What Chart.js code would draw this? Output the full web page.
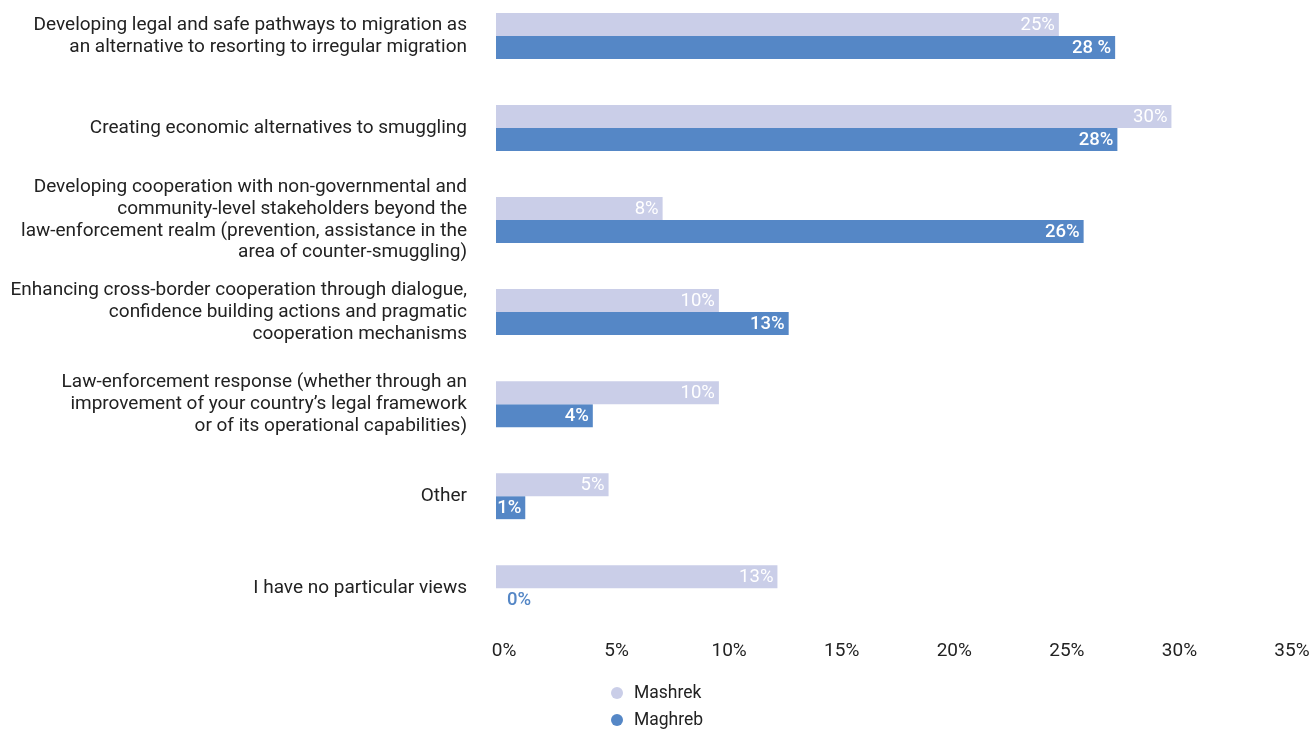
<!DOCTYPE html>
<html>
<head>
<meta charset="utf-8">
<script src="https://cdn.jsdelivr.net/npm/chart.js@4/dist/chart.umd.min.js"></script>
<style>
  html, body { margin: 0; padding: 0; background: #fff; }
  #wrap { width: 1312px; height: 730px; position: relative; }
</style>
</head>
<body>
<div id="wrap"><canvas id="chart"></canvas></div>
<script>
// categories (one per row)
const categories = [
  ['Developing legal and safe pathways to migration as', 'an alternative to resorting to irregular migration'],
  'Creating economic alternatives to smuggling',
  ['Developing cooperation with non-governmental and', 'community-level stakeholders beyond the', 'law-enforcement realm (prevention, assistance in the', 'area of counter-smuggling)'],
  ['Enhancing cross-border cooperation through dialogue,', 'confidence building actions and pragmatic', 'cooperation mechanisms'],
  ['Law-enforcement response (whether through an', 'improvement of your country\u2019s legal framework', 'or of its operational capabilities)'],
  'Other',
  'I have no particular views'
];

// series values (%)
const mashrekValues = [25, 30, 7.4, 9.9, 9.9, 5.0, 12.5];
const maghrebValues = [27.5, 27.6, 26.1, 13.0, 4.3, 1.3, 0];

// value labels as printed on the bars
const mashrekLabels = ['25%', '30%', '8%', '10%', '10%', '5%', '13%'];
const maghrebLabels = ['28 %', '28%', '26%', '13%', '4%', '1%', '0%'];

const xTicks = [0, 5, 10, 15, 20, 25, 30, 35];

const MASHREK = '#caceE8';
const MAGHREB = '#5587c6';
const FONT = 'Roboto, "Noto Sans", sans-serif';

// labels drawn at the end of each bar
const barLabels = {
  id: 'barLabels',
  afterDatasetsDraw(chart) {
    const ctx = chart.ctx;
    const texts = [mashrekLabels, maghrebLabels];
    chart.data.datasets.forEach((ds, i) => {
      const meta = chart.getDatasetMeta(i);
      ctx.save();
      ctx.font = (i === 1 ? '500 ' : '400 ') + '18.5px ' + FONT;
      ctx.textBaseline = 'middle';
      meta.data.forEach((bar, j) => {
        const txt = texts[i][j];
        const w = ctx.measureText(txt).width;
        const barW = bar.x - bar.base;
        if (w + 5 <= barW) {
          ctx.fillStyle = '#ffffff';
          ctx.textAlign = 'right';
          ctx.fillText(txt, bar.x - 4, bar.y + 1);
        } else {
          ctx.fillStyle = ds.backgroundColor;
          ctx.textAlign = 'left';
          ctx.fillText(txt, bar.x + 11, bar.y + 1);
        }
      });
      ctx.restore();
    });
  }
};

// vertical legend under the axis
const stackedLegend = {
  id: 'stackedLegend',
  afterDraw(chart) {
    const ctx = chart.ctx;
    ctx.save();
    ctx.font = '17.5px ' + FONT;
    ctx.textBaseline = 'middle';
    ctx.textAlign = 'left';
    chart.data.datasets.forEach((ds, i) => {
      const y = 693 + i * 27;
      ctx.fillStyle = ds.backgroundColor;
      ctx.beginPath();
      ctx.arc(617, y, 6, 0, Math.PI * 2);
      ctx.fill();
      ctx.fillStyle = '#222';
      ctx.fillText(ds.label, 634, y + 1);
    });
    ctx.restore();
  }
};

new Chart(document.getElementById('chart'), {
  type: 'bar',
  data: {
    labels: categories,
    datasets: [
      { label: 'Mashrek', data: mashrekValues, backgroundColor: MASHREK, clip: false },
      { label: 'Maghreb', data: maghrebValues, backgroundColor: MAGHREB, clip: false }
    ]
  },
  options: {
    indexAxis: 'y',
    responsive: true,
    maintainAspectRatio: false,
    animation: false,
    layout: { padding: { top: 36, right: 28, bottom: 23, left: 0 } },
    datasets: { bar: { categoryPercentage: 0.5, barPercentage: 1.0 } },
    plugins: { legend: { display: false }, tooltip: { enabled: false } },
    scales: {
      x: {
        min: 0,
        max: 35,
        afterBuildTicks(scale) { scale.ticks = xTicks.map(v => ({ value: v })); },
        afterFit(scale) { scale.paddingLeft = 0; scale.paddingRight = 0; },
        grid: { display: false },
        border: { display: false },
        ticks: {
          color: '#222',
          font: { family: FONT, size: 19 },
          padding: 44,
          labelOffset: 8,
          maxRotation: 0,
          callback: v => v + '%'
        }
      },
      y: {
        offset: false,
        grid: { display: false },
        border: { display: false },
        afterFit(scale) {
          scale.width = 496;
          scale.paddingTop = 0;
          scale.paddingBottom = 0;
        },
        ticks: {
          autoSkip: false,
          color: '#222',
          font: { family: FONT, size: 19, lineHeight: 1.14 },
          padding: 21
        }
      }
    }
  },
  plugins: [barLabels, stackedLegend]
});
</script>
</body>
</html>
